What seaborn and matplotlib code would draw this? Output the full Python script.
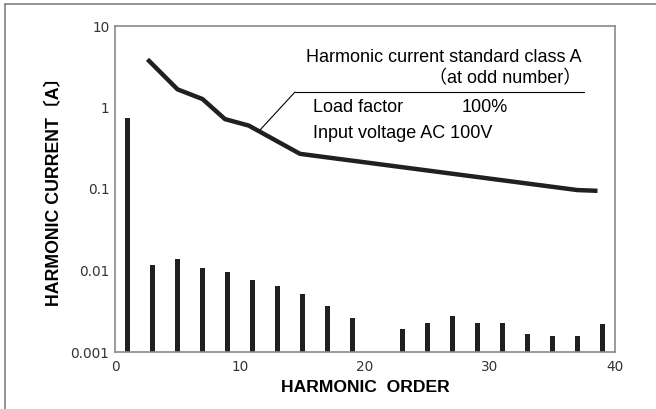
import matplotlib
matplotlib.use("Agg")
import matplotlib.pyplot as plt
from matplotlib.lines import Line2D
import seaborn as sns
import pandas as pd

# ---- data ----
harmonic_order = [1, 3, 5, 7, 9, 11, 13, 15, 17, 19, 23, 25, 27, 29, 31, 33, 35, 37, 39]
harmonic_current = [0.75, 0.0117, 0.0137, 0.0107, 0.0096, 0.0077, 0.0064, 0.0052,
                    0.0037, 0.0026, 0.0019, 0.0023, 0.0028, 0.00225, 0.00225,
                    0.00165, 0.00158, 0.00158, 0.0022]
limit_order = [2.6, 5, 7, 8.8, 10.7, 14.8, 37, 38.6]
limit_current = [3.9, 1.67, 1.27, 0.72, 0.60, 0.27, 0.097, 0.095]
x_ticks = [0, 10, 20, 30, 40]
y_ticks = [0.001, 0.01, 0.1, 1, 10]
y_tick_labels = ["0.001", "0.01", "0.1", "1", "10"]

sns.set_theme(style="white")
plt.rcParams['font.family'] = ['Liberation Sans', 'Noto Sans CJK JP', 'DejaVu Sans']

W, H = 656, 409
fig = plt.figure(figsize=(W / 100, H / 100), dpi=100)
ax = fig.add_axes([115 / W, 1 - 352 / H, 500 / W, 326 / H])

ink = "#231f20"
df = pd.DataFrame({"order": harmonic_order, "current": harmonic_current})
sns.barplot(data=df, x="order", y="current", native_scale=True, width=0.22,
            color=ink, saturation=1, edgecolor="none", linewidth=0, ax=ax)
ld = pd.DataFrame({"order": limit_order, "current": limit_current})
sns.lineplot(data=ld, x="order", y="current", color=ink, lw=3.2, ax=ax,
             solid_capstyle="butt", solid_joinstyle="round")

ax.set_yscale("log")
ax.set_xlim(0, 40)
ax.set_ylim(0.001, 10)
ax.set_xticks(x_ticks)
ax.set_xticklabels([str(t) for t in x_ticks])
ax.set_yticks(y_ticks)
ax.set_yticklabels(y_tick_labels)
ax.minorticks_off()
ax.tick_params(axis="both", direction="in", length=4.3, width=1, color="#8a8a8a",
               labelcolor="#333333", labelsize=9.8)
ax.tick_params(axis="y", pad=4)
ax.tick_params(axis="x", pad=6)
for lab in ax.get_xticklabels() + ax.get_yticklabels():
    lab.set_fontfamily("DejaVu Sans")
for s in ax.spines.values():
    s.set_color("#8a8a8a")
    s.set_linewidth(1.2)

ax.set_xlabel("")
ax.set_ylabel("")
fig.text(365 / W, 1 - 387 / H, "HARMONIC  ORDER", ha="center", va="center",
         fontsize=12.6, fontweight="bold", color="black")
fig.text(55 / W, 1 - 187 / H, "HARMONIC CURRENT〔A〕", ha="center", va="center",
         rotation=90, fontsize=12.8, fontweight="bold", color="black")


def fx(x):
    return x / W


def fy(y):
    return 1 - y / H


fs = 13
fig.text(fx(582), fy(58), "Harmonic current standard class A", ha="right", va="center",
         fontsize=fs, color="black")
fig.text(fx(581), fy(79), "（at odd number）", ha="right", va="center",
         fontsize=fs, color="black")
fig.text(fx(313), fy(108), "Load factor", ha="left", va="center", fontsize=fs, color="black")
fig.text(fx(462), fy(108), "100%", ha="left", va="center", fontsize=fs, color="black")
fig.text(fx(313), fy(133), "Input voltage AC 100V", ha="left", va="center", fontsize=fs,
         color="black")

fig.add_artist(Line2D([fx(295), fx(584)], [fy(92), fy(92)], color="black", lw=0.8,
                      transform=fig.transFigure))
fig.add_artist(Line2D([fx(295), fx(260)], [fy(92), fy(130)], color="black", lw=0.8,
                      transform=fig.transFigure))

# outer frame (top and left edges)
fig.add_artist(Line2D([fx(5), fx(656)], [fy(4), fy(4)], color="#777777", lw=1.1,
                      transform=fig.transFigure))
fig.add_artist(Line2D([fx(5), fx(5)], [fy(4), fy(409)], color="#777777", lw=1.1,
                      transform=fig.transFigure))

fig.savefig("out.png", dpi=100)
